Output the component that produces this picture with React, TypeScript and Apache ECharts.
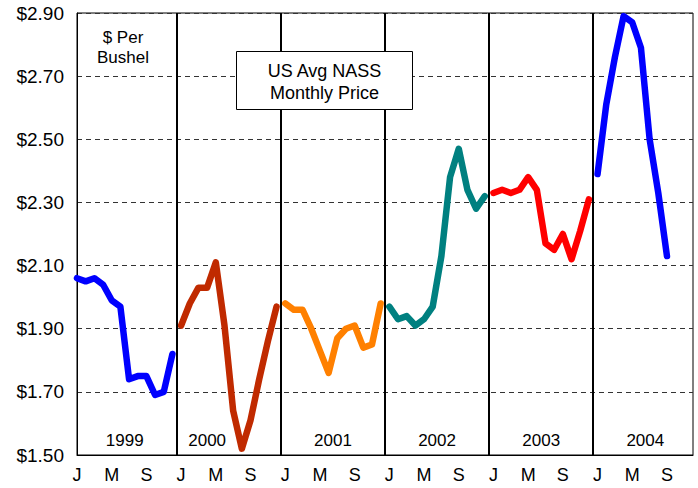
import React, { useEffect, useRef } from "react";
import * as echarts from "echarts";

// ---- Data ----
const years = ["1999", "2000", "2001", "2002", "2003", "2004"];
const monthLetters = ["J", "F", "M", "A", "M", "J", "J", "A", "S", "O", "N", "D"];
const price1999 = [2.06, 2.05, 2.06, 2.04, 1.99, 1.97, 1.74, 1.75, 1.75, 1.69, 1.70, 1.82];
const price2000 = [1.91, 1.98, 2.03, 2.03, 2.11, 1.91, 1.64, 1.52, 1.61, 1.74, 1.86, 1.97];
const price2001 = [1.98, 1.96, 1.96, 1.90, 1.83, 1.76, 1.87, 1.90, 1.91, 1.84, 1.85, 1.98];
const price2002 = [1.97, 1.93, 1.94, 1.91, 1.93, 1.97, 2.13, 2.38, 2.47, 2.34, 2.28, 2.32];
const price2003 = [2.33, 2.34, 2.33, 2.34, 2.38, 2.34, 2.17, 2.15, 2.20, 2.12, 2.21, 2.31];
const price2004 = [2.39, 2.61, 2.76, 2.89, 2.87, 2.79, 2.50, 2.33, 2.13];
const yTicks = { min: 1.5, max: 2.9, step: 0.2 };

// ---- Styles / layout ----
const prices = [price1999, price2000, price2001, price2002, price2003, price2004];
const yearColors = ["#0000FF", "#C02A00", "#FF8000", "#008080", "#FF0000", "#0000FF"];
const FONT = '"Liberation Sans", Arial, sans-serif';
const yearLabelPos = [5.5, 15, 29.5, 41.5, 53.5, 65.5];
const yearLabelLevel = 1.547;

export default function App() {
  const ref = useRef<HTMLDivElement>(null);
  useEffect(() => {
    if (!ref.current) return;
    const chart = echarts.init(ref.current, undefined, { renderer: "svg" });

    const lineSeries = prices.map((arr, yi) => ({
      type: "line",
      name: years[yi],
      data: arr.map((v, m) => [yi * 12 + m, v]),
      showSymbol: false,
      symbol: "none",
      lineStyle: { color: yearColors[yi], width: 6.5, cap: "round", join: "round" },
      itemStyle: { color: yearColors[yi] },
      z: 3,
      markLine:
        yi === 0
          ? {
              silent: true,
              symbol: ["none", "none"],
              label: { show: false },
              lineStyle: { color: "#000", width: 2, type: "solid" },
              data: years.slice(1).map((_, i) => ({ xAxis: (i + 1) * 12 - 0.5 })),
            }
          : undefined,
    }));

    const staticGraphics: any[] = [
      {
        type: "text",
        x: 123,
        y: 47,
        z: 100,
        style: {
          text: "$ Per\nBushel",
          fill: "#000",
          fontSize: 17,
          fontFamily: FONT,
          align: "center",
          verticalAlign: "middle",
          lineHeight: 20,
        },
      },
      {
        type: "rect",
        z: 100,
        shape: { x: 236.5, y: 51.5, width: 176, height: 58 },
        style: { fill: "#fff", stroke: "#000", lineWidth: 1 },
      },
      {
        type: "text",
        x: 324.5,
        y: 82,
        z: 101,
        style: {
          text: "US Avg NASS\nMonthly Price",
          fill: "#000",
          fontSize: 18,
          fontFamily: FONT,
          align: "center",
          verticalAlign: "middle",
          lineHeight: 22,
        },
      },
    ];

    chart.setOption({
      animation: false,
      backgroundColor: "#fff",
      grid: {
        left: 77,
        right: 5,
        top: 13,
        bottom: 33,
        show: true,
        borderColor: "#000",
        borderWidth: 1,
        backgroundColor: "transparent",
        outerBoundsMode: "none",
      },
      xAxis: {
        type: "value",
        min: 0,
        max: 71,
        interval: 4,
        axisLine: { show: true, lineStyle: { color: "#000", width: 1 } },
        axisTick: { show: false },
        splitLine: { show: false },
        axisLabel: {
          margin: 11,
          color: "#000",
          fontSize: 18,
          fontFamily: FONT,
          formatter: (v: number) =>
            v % 4 === 0 && v <= 68 ? monthLetters[v % 12] : "",
        },
      },
      yAxis: {
        type: "value",
        min: yTicks.min,
        max: yTicks.max,
        interval: yTicks.step,
        axisLine: { show: true, lineStyle: { color: "#000", width: 1 } },
        axisTick: { show: false },
        splitLine: {
          show: true,
          lineStyle: { color: "#333", width: 1, type: [5, 4] },
        },
        axisLabel: {
          margin: 13,
          color: "#000",
          fontSize: 19,
          fontFamily: FONT,
          formatter: (v: number) => "$" + v.toFixed(2),
        },
      },
      series: lineSeries,
      graphic: staticGraphics,
    });

    const yearTexts = years.map((name, i) => {
      const pt = chart.convertToPixel({ gridIndex: 0 }, [yearLabelPos[i], yearLabelLevel]) as number[];
      return {
        type: "text",
        x: pt[0],
        y: pt[1],
        z: 50,
        style: {
          text: name,
          fill: "#000",
          fontSize: 17,
          fontFamily: FONT,
          align: "center",
          verticalAlign: "middle",
        },
      };
    });
    chart.setOption({ graphic: [...staticGraphics, ...yearTexts] }, { replaceMerge: ["graphic"] });

    return () => chart.dispose();
  }, []);

  return (
    <div
      ref={ref}
      style={{ position: "absolute", left: 0, top: 0, width: 698, height: 488 }}
    />
  );
}
